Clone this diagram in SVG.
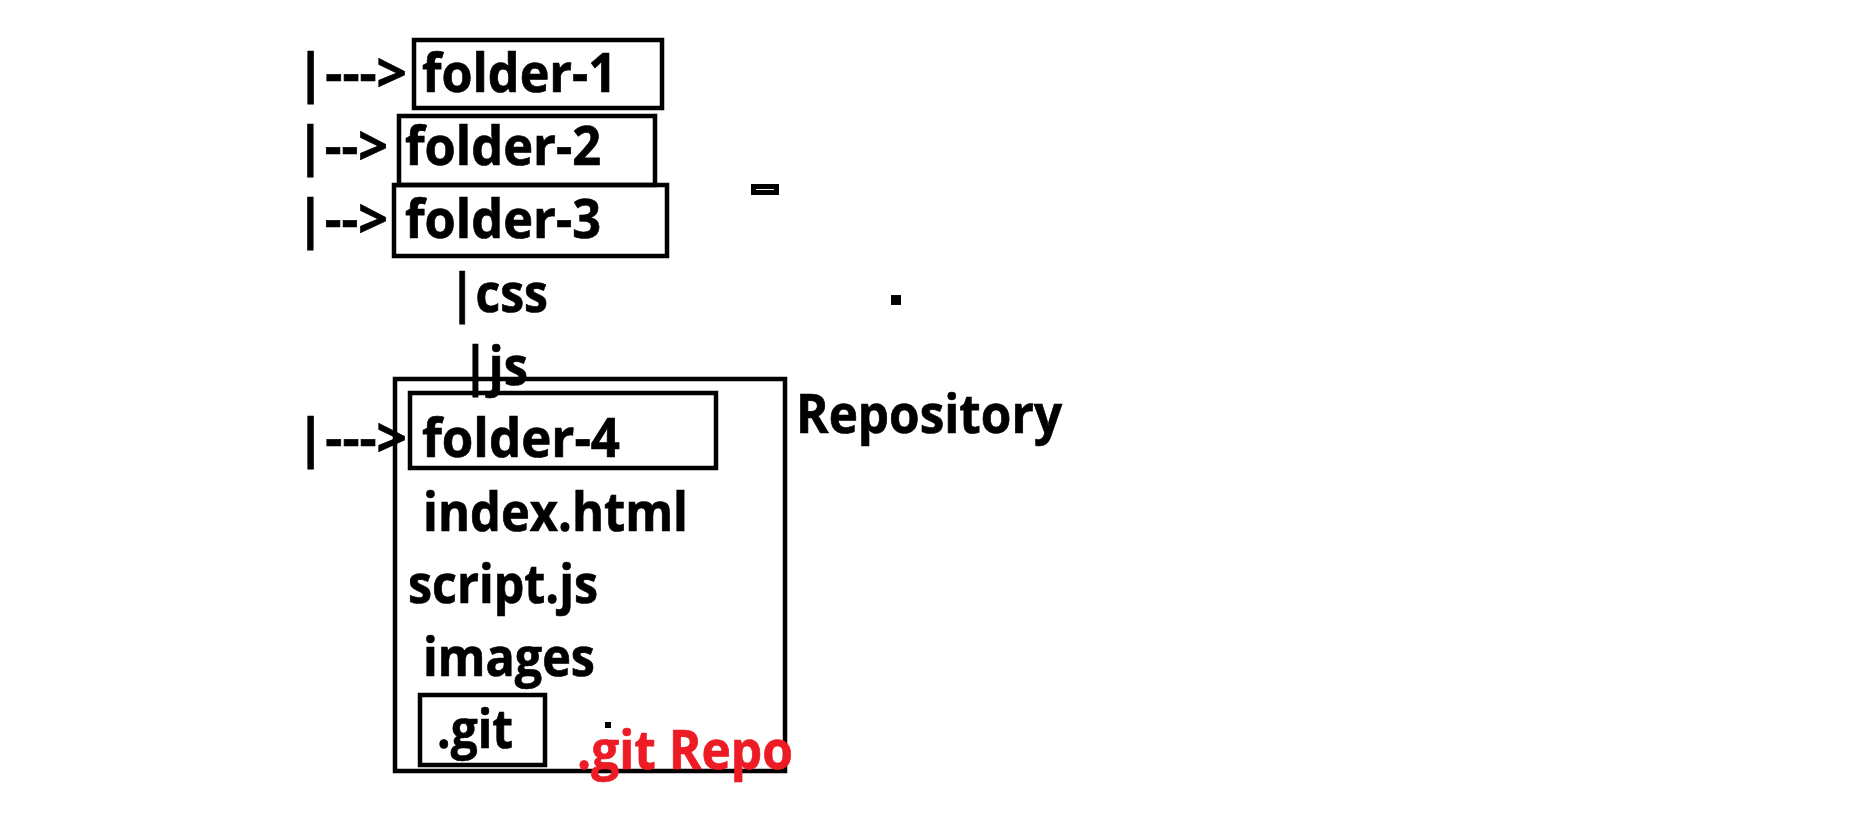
<svg xmlns="http://www.w3.org/2000/svg" width="1865" height="822" viewBox="0 0 1865 822">
<style>
.t{font-family:"Open Sans","Liberation Sans",sans-serif;font-weight:700;font-size:53px;fill:#000;stroke:#000;stroke-width:0.7}
.r{fill:#ED1C24;stroke:#ED1C24}
.b{fill:none;stroke:#000;stroke-width:4.5}
</style>
<rect width="1865" height="822" fill="#fff"/>
<g id="connectors">
<text class="t" x="296" y="92" textLength="111" lengthAdjust="spacingAndGlyphs">|---&gt;</text>
<text class="t" x="296" y="165" textLength="92" lengthAdjust="spacingAndGlyphs">|--&gt;</text>
<text class="t" x="296" y="238" textLength="92" lengthAdjust="spacingAndGlyphs">|--&gt;</text>
<text class="t" x="296" y="457" textLength="111" lengthAdjust="spacingAndGlyphs">|---&gt;</text>
</g>
<g id="repository">
<rect class="b" x="395" y="379" width="390" height="392"/>
<text class="t" x="796" y="433" textLength="266" lengthAdjust="spacingAndGlyphs">Repository</text>
</g>
<g id="folder-1">
<rect class="b" x="414" y="40" width="248" height="68"/>
<text class="t" x="422" y="92" textLength="195" lengthAdjust="spacingAndGlyphs">folder-1</text>
</g>
<g id="folder-2">
<rect class="b" x="399" y="116" width="256" height="69"/>
<text class="t" x="405" y="165" textLength="196" lengthAdjust="spacingAndGlyphs">folder-2</text>
</g>
<g id="folder-3">
<rect class="b" x="394" y="185" width="273" height="71"/>
<text class="t" x="405" y="238" textLength="196" lengthAdjust="spacingAndGlyphs">folder-3</text>
</g>
<g id="css">
<text class="t" x="449" y="312" textLength="99" lengthAdjust="spacingAndGlyphs">|css</text>
</g>
<g id="js">
<text class="t" x="462" y="385" textLength="66" lengthAdjust="spacingAndGlyphs">|js</text>
</g>
<g id="folder-4">
<rect class="b" x="410" y="393" width="306" height="75"/>
<text class="t" x="422" y="457" textLength="198" lengthAdjust="spacingAndGlyphs">folder-4</text>
</g>
<g id="index-html">
<text class="t" x="423" y="531" textLength="265" lengthAdjust="spacingAndGlyphs">index.html</text>
</g>
<g id="script-js">
<text class="t" x="408" y="603" textLength="190" lengthAdjust="spacingAndGlyphs">script.js</text>
</g>
<g id="images">
<text class="t" x="423" y="676" textLength="172" lengthAdjust="spacingAndGlyphs">images</text>
</g>
<g id="git">
<rect class="b" x="420" y="695" width="125" height="70"/>
<text class="t" x="437" y="748" textLength="76" lengthAdjust="spacingAndGlyphs">.git</text>
</g>
<g id="git-repo">
<text class="t r" x="577" y="769" textLength="216" lengthAdjust="spacingAndGlyphs">.git Repo</text>
</g>
<g id="marks">
<rect x="751" y="184" width="28" height="11" fill="#000"/>
<line x1="756" y1="189.5" x2="774" y2="189.5" stroke="#fff" stroke-width="1"/>
<rect x="891" y="295" width="10" height="10" fill="#000"/>
<rect x="605" y="722" width="6" height="6" fill="#000"/>
</g>
</svg>
